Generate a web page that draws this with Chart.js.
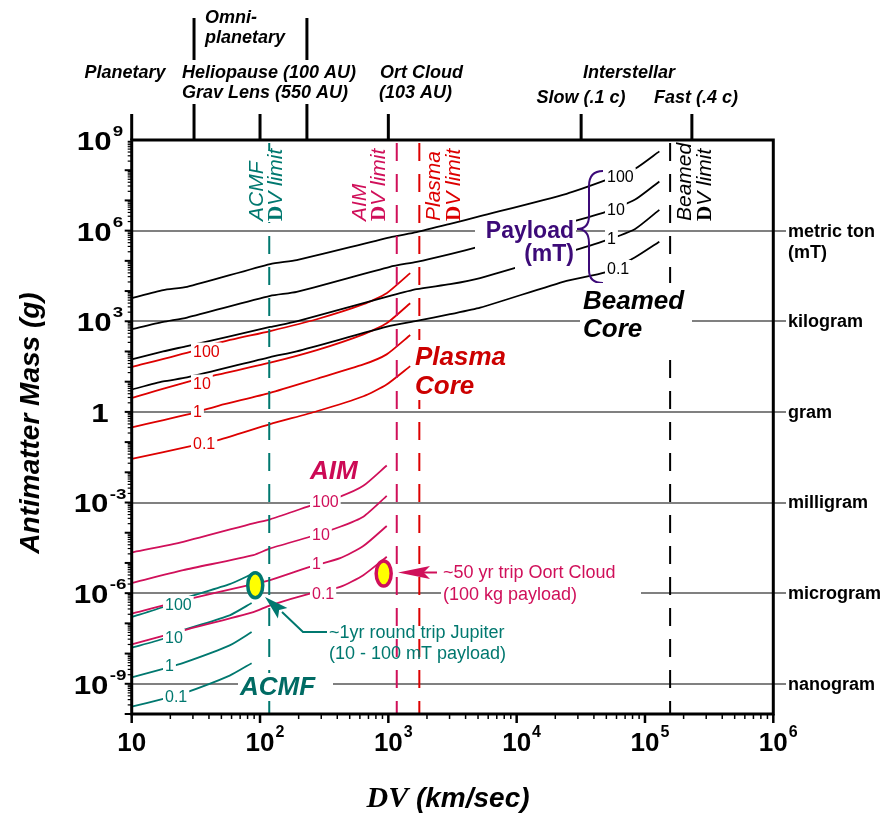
<!DOCTYPE html>
<html>
<head>
<meta charset="utf-8">
<script src="https://cdn.jsdelivr.net/npm/chart.js@4.4.1/dist/chart.umd.min.js"></script>
<style>
  html, body { margin: 0; padding: 0; background: #fff; }
  canvas { display: block; }
</style>
</head>
<body>
<canvas id="chart" width="889" height="814"></canvas>
<script>
// ---- data ----
// Beamed core (black), payload 100 / 10 / 1 / 0.1 mT
const beamedDV  = [10, 17.6, 27, 120, 193, 1030, 1660, 3030, 5190, 24500, 48900, 83800, 129400];
const beamed100 = [5800, 10700, 13800, 78000, 106000, 6.0e5, 8.9e5, 1.67e6, 3.0e6, 1.66e7, 4.6e7, 1.12e8, 4.2e8];
const beamed10  = [542, 948, 1330, 6930, 9400, 6.37e4, 9.3e4, 1.68e5, 2.99e5, 1.76e6, 4.08e6, 1.07e7, 4.25e7];
const beamed1   = [54.6, 100.7, 151, 647, 1000, 6930, 1.16e4, 1.69e4, 2.69e4, 1.86e5, 4.66e5, 1.14e6, 4.88e6];
const beamed01  = [5.5, 10.2, 13.8, 65.2, 100.7, 698, 1023, 1710, 2810, 2.18e4, 4.15e4, 1.31e5, 4.3e5];

// Plasma core (red)
const plasmaDV  = [10, 30, 48, 120, 277, 640, 970, 1480];
const plasma100 = [30.3, 103, 196, 476, 1166, 3670, 8510, 39400];
const plasma10  = [2.92, 11, 17.3, 42.5, 111, 370, 859, 3960];
const plasma1   = [0.308, 0.912, 1.62, 4.28, 12.5, 37.2, 80.2, 351];
const plasma01  = [0.0281, 0.0759, 0.119, 0.394, 1.05, 3.30, 8.07, 32.7];

// AIM (crimson)
const aimDV  = [10, 25.2, 88.7, 120, 245, 421, 638, 972];
const aim100 = [2.23e-5, 5.02e-5, 2.05e-4, 2.79e-4, 7.71e-4, 1.57e-3, 3.56e-3, 1.68e-2];
const aim10  = [2.18e-6, 5.77e-6, 1.82e-5, 3.03e-5, 7.36e-5, 1.58e-4, 3.40e-4, 1.66e-3];
const aim1   = [2.10e-7, 5.81e-7, 1.98e-6, 2.69e-6, 7.41e-6, 1.44e-5, 3.61e-5, 1.67e-4];
const aim01  = [2.00e-8, 5.85e-8, 2.37e-7, 3.96e-7, 9.70e-7, 1.61e-6, 3.94e-6, 1.60e-5];

// ACMF (teal)
const acmfDV  = [10, 17.6, 25, 58, 86];
const acmf100 = [1.62e-7, 3.48e-7, 6.52e-7, 1.98e-6, 4.25e-6];
const acmf10  = [1.56e-8, 3.10e-8, 5.85e-8, 1.85e-7, 4.72e-7];
const acmf1   = [1.64e-9, 3.13e-9, 4.80e-9, 1.86e-8, 5.14e-8];
const acmf01  = [1.75e-10, 3.15e-10, 4.72e-10, 1.87e-9, 4.80e-9];

// DV limits (dashed verticals)
const limitDV = [118, 1163, 1744, 157000];

// mission markers (yellow ellipses)
const markerDV   = [91.8, 920];
const markerMass = [1.83e-6, 4.48e-6];

// mass gridlines with their names
const gridMass  = [1e6, 1e3, 1, 1e-3, 1e-6, 1e-9];
const gridNames = [['metric ton', '(mT)'], ['kilogram'], ['gram'], ['milligram'], ['microgram'], ['nanogram']];

// axis ticks
const xMajor = [10, 100, 1e3, 1e4, 1e5, 1e6];
const xTickExp = ['', '2', '3', '4', '5', '6'];
const yMajor = [1e9, 1e6, 1e3, 1, 1e-3, 1e-6, 1e-9];
const yTickBase = ['10', '10', '10', '1', '10', '10', '10'];
const yTickExp = ['9', '6', '3', '', '-3', '-6', '-9'];

// mission classes on the top axis
const topTickDV = [10, 30.6, 100, 232, 1000, 31800, 232000];
const topTickLong = [false, true, false, true, false, false, false];

const SANS = '"Liberation Sans", Arial, Helvetica, sans-serif';
const SERIF = '"Liberation Serif", "Times New Roman", serif';
const BLACK = '#000000', RED = '#dd0000', AIMC = '#d0105a', TEAL = '#00786f', PURPLE = '#3c0a78';

function curve(dv, mass, color) {
    return {
        data: dv.map((x, i) => ({ x: x, y: mass[i] })),
        showLine: true,
        borderColor: color,
        borderWidth: 1.8,
        pointRadius: 0,
        tension: 0.2
    };
}

function seg(ctx, x1, y1, x2, y2) {
    ctx.beginPath();
    ctx.moveTo(x1, y1);
    ctx.lineTo(x2, y2);
    ctx.stroke();
}

function put(ctx, s, x, y, font, color, align, base) {
    ctx.font = font;
    ctx.fillStyle = color;
    ctx.textAlign = align || 'left';
    ctx.textBaseline = base || 'middle';
    ctx.fillText(s, x, y);
}

function white(ctx, x, y, w, h) {
    ctx.fillStyle = '#fff';
    ctx.fillRect(x, y, w, h);
}

// small inline curve label with a white gap behind it
function tag(ctx, s, x, cy, color) {
    ctx.font = `16px ${SANS}`;
    const w = ctx.measureText(s).width;
    white(ctx, x - 2, cy - 9, w + 4, 18);
    put(ctx, s, x, cy + 1, `16px ${SANS}`, color);
}

// vertical "XXX / DV limit" label, reading upward from y = 221
function limitLabel(ctx, name, xName, xLim, color) {
    ctx.save();
    ctx.translate(xName, 221);
    ctx.rotate(-Math.PI / 2);
    put(ctx, name, 0, 0, `italic 21px ${SANS}`, color, 'left', 'alphabetic');
    ctx.restore();
    ctx.save();
    ctx.translate(xLim, 221);
    ctx.rotate(-Math.PI / 2);
    put(ctx, 'D', 0, 0, `bold 21px ${SERIF}`, color, 'left', 'alphabetic');
    const dw = ctx.measureText('D').width;
    put(ctx, 'V limit', dw, 0, `italic 21px ${SANS}`, color, 'left', 'alphabetic');
    ctx.restore();
}

function arrowHead(ctx, tx, ty, fx, fy, len, half, color) {
    const dx = tx - fx, dy = ty - fy, l = Math.hypot(dx, dy);
    const ux = dx / l, uy = dy / l;
    const bx = tx - ux * len, by = ty - uy * len;
    ctx.fillStyle = color;
    ctx.beginPath();
    ctx.moveTo(tx, ty);
    ctx.lineTo(bx - uy * half, by + ux * half);
    ctx.lineTo(tx - ux * len * 0.8, ty - uy * len * 0.8);
    ctx.lineTo(bx + uy * half, by - ux * half);
    ctx.closePath();
    ctx.fill();
}

const decor = {
    id: 'decor',
    beforeDatasetsDraw(chart) {
        const { ctx, chartArea: a, scales: { y } } = chart;
        ctx.save();
        ctx.strokeStyle = '#808080';
        ctx.lineWidth = 2;
        gridMass.forEach(v => {
            const py = Math.round(y.getPixelForValue(v));
            seg(ctx, a.left, py, 786, py);
        });
        ctx.restore();
    },
    afterDatasetsDraw(chart) {
        const { ctx, chartArea: a, scales: { x, y } } = chart;
        ctx.save();

        // dashed DV limits
        const limitColors = [TEAL, AIMC, RED, BLACK];
        ctx.lineWidth = 2;
        ctx.setLineDash([18, 13]);
        limitDV.forEach((v, i) => {
            const px = x.getPixelForValue(v);
            ctx.strokeStyle = limitColors[i];
            seg(ctx, px, a.top + 3, px, a.bottom);
        });
        ctx.setLineDash([]);

        white(ctx, 265, 151, 20, 71);
        limitLabel(ctx, 'ACMF', 263, 282, TEAL);
        limitLabel(ctx, 'AIM', 366, 385, AIMC);
        limitLabel(ctx, 'Plasma', 440, 460, RED);
        limitLabel(ctx, 'Beamed', 691, 711, BLACK);

        // inline payload labels
        [['100', 176.5], ['10', 209.5], ['1', 238.5], ['0.1', 269]].forEach(t => tag(ctx, t[0], 607, t[1], BLACK));
        [['100', 351.5], ['10', 383.5], ['1', 412], ['0.1', 443.5]].forEach(t => tag(ctx, t[0], 193, t[1], RED));
        [['100', 502], ['10', 534.5], ['1', 564], ['0.1', 594]].forEach(t => tag(ctx, t[0], 312, t[1], AIMC));
        [['100', 605], ['10', 638], ['1', 666], ['0.1', 696.5]].forEach(t => tag(ctx, t[0], 165, t[1], TEAL));

        // Payload (mT) with brace
        white(ctx, 475, 219, 101, 33);
        white(ctx, 515, 240, 61, 33);
        put(ctx, 'Payload', 574, 238, `bold 23px ${SANS}`, PURPLE, 'right', 'alphabetic');
        put(ctx, '(mT)', 574, 261, `bold 23px ${SANS}`, PURPLE, 'right', 'alphabetic');
        ctx.strokeStyle = PURPLE;
        ctx.lineWidth = 2;
        ctx.beginPath();
        ctx.moveTo(603, 171);
        ctx.quadraticCurveTo(589, 171, 589, 186);
        ctx.lineTo(589, 216);
        ctx.quadraticCurveTo(589, 229, 577, 229);
        ctx.quadraticCurveTo(589, 229, 589, 243);
        ctx.lineTo(589, 270);
        ctx.quadraticCurveTo(589, 283, 603, 283);
        ctx.stroke();

        // family names
        white(ctx, 580, 283, 112, 66);
        put(ctx, 'Beamed', 583, 302, `bold italic 26px ${SANS}`, BLACK);
        put(ctx, 'Core', 583, 330, `bold italic 26px ${SANS}`, BLACK);
        white(ctx, 413, 340, 97, 60);
        put(ctx, 'Plasma', 415, 358, `bold italic 26px ${SANS}`, '#cc0000');
        put(ctx, 'Core', 415, 387, `bold italic 26px ${SANS}`, '#cc0000');
        put(ctx, 'AIM', 310, 472, `bold italic 26px ${SANS}`, '#cc0a55');
        white(ctx, 238, 673, 95, 28);
        put(ctx, 'ACMF', 240, 688, `bold italic 26px ${SANS}`, '#006b64');

        // mission markers
        markerDV.forEach((v, i) => {
            const px = x.getPixelForValue(v), py = y.getPixelForValue(markerMass[i]);
            ctx.beginPath();
            ctx.ellipse(px, py, 7.5, 12.5, 0, 0, Math.PI * 2);
            ctx.fillStyle = '#ffff00';
            ctx.fill();
            ctx.lineWidth = 3.5;
            ctx.strokeStyle = i === 0 ? TEAL : AIMC;
            ctx.stroke();
        });

        // Oort cloud note
        white(ctx, 441, 561, 200, 46);
        put(ctx, '~50 yr trip Oort Cloud', 443, 573, `18px ${SANS}`, AIMC);
        put(ctx, '(100 kg payload)', 443, 595, `18px ${SANS}`, AIMC);
        ctx.strokeStyle = AIMC;
        ctx.lineWidth = 2;
        seg(ctx, 437, 572.5, 420, 572.5);
        arrowHead(ctx, 398, 572.5, 437, 572.5, 32, 6.5, AIMC);

        // Jupiter note
        put(ctx, '~1yr round trip Jupiter', 329, 633, `18px ${SANS}`, TEAL);
        put(ctx, '(10 - 100 mT payload)', 329, 654, `18px ${SANS}`, TEAL);
        ctx.strokeStyle = TEAL;
        ctx.lineWidth = 2;
        ctx.beginPath();
        ctx.moveTo(327, 632);
        ctx.lineTo(303, 632);
        ctx.lineTo(282, 612);
        ctx.stroke();
        arrowHead(ctx, 265, 597, 303, 632, 24, 7, TEAL);

        // plot frame
        ctx.strokeStyle = BLACK;
        ctx.lineWidth = 3;
        ctx.strokeRect(a.left, a.top, a.right - a.left, a.bottom - a.top);

        // bottom ticks
        for (let d = 1; d < 6; d++) {
            for (let m = 1; m < 10; m++) {
                const px = x.getPixelForValue(m * Math.pow(10, d));
                ctx.lineWidth = m === 1 ? 2.5 : 1.5;
                seg(ctx, px, a.bottom, px, a.bottom + (m === 1 ? 9 : 5));
            }
        }
        ctx.lineWidth = 2.5;
        seg(ctx, a.right, a.bottom, a.right, a.bottom + 9);

        // left ticks
        for (let d = -10; d < 9; d++) {
            for (let m = 1; m < 10; m++) {
                const py = y.getPixelForValue(m * Math.pow(10, d));
                ctx.lineWidth = m === 1 ? 2 : 1.2;
                seg(ctx, a.left, py, a.left - (m === 1 ? 7 : 4), py);
            }
        }

        // x tick labels
        xMajor.forEach((v, i) => {
            const px = x.getPixelForValue(v);
            put(ctx, '10', px, 744, `bold 26px ${SANS}`, BLACK, 'center');
            if (xTickExp[i]) {
                const bw = ctx.measureText('10').width;
                put(ctx, xTickExp[i], px + bw / 2 + 1, 733, `bold 16px ${SANS}`, BLACK, 'left');
            }
        });

        // y tick labels (wide lettering)
        yMajor.forEach((v, i) => {
            const py = y.getPixelForValue(v);
            ctx.save();
            ctx.translate(100, py);
            ctx.scale(1.25, 1);
            ctx.font = `bold 25px ${SANS}`;
            const bw = ctx.measureText(yTickBase[i]).width;
            ctx.font = `bold 15px ${SANS}`;
            const ew = yTickExp[i] ? ctx.measureText(yTickExp[i]).width + 1 : 0;
            const sx = -(bw + ew) / 2;
            put(ctx, yTickBase[i], sx, 3, `bold 25px ${SANS}`, BLACK, 'left');
            if (yTickExp[i]) put(ctx, yTickExp[i], sx + bw + 1, -8, `bold 15px ${SANS}`, BLACK, 'left');
            ctx.restore();
        });

        // mass names on the right
        gridMass.forEach((v, i) => {
            const py = y.getPixelForValue(v);
            put(ctx, gridNames[i][0], 788, py + 1, `bold 18px ${SANS}`, BLACK);
            if (gridNames[i][1]) put(ctx, gridNames[i][1], 788, py + 22, `bold 18px ${SANS}`, BLACK);
        });

        // top axis ticks
        ctx.strokeStyle = BLACK;
        ctx.lineWidth = 3;
        topTickDV.forEach((v, i) => {
            const px = x.getPixelForValue(v);
            seg(ctx, px, a.top, px, topTickLong[i] ? 18 : 114);
        });

        const TF = `bold italic 18px ${SANS}`;
        put(ctx, 'Omni-', 205, 23, TF, BLACK, 'left', 'alphabetic');
        put(ctx, 'planetary', 205, 43, TF, BLACK, 'left', 'alphabetic');
        put(ctx, 'Planetary', 125, 78, TF, BLACK, 'center', 'alphabetic');
        white(ctx, 180, 60, 192, 44);
        put(ctx, 'Heliopause (100 AU)', 182, 78, TF, BLACK, 'left', 'alphabetic');
        put(ctx, 'Grav Lens (550 AU)', 182, 98, TF, BLACK, 'left', 'alphabetic');
        put(ctx, 'Ort Cloud', 380, 78, TF, BLACK, 'left', 'alphabetic');
        put(ctx, '(103 AU)', 379, 98, TF, BLACK, 'left', 'alphabetic');
        put(ctx, 'Interstellar', 629, 78, TF, BLACK, 'center', 'alphabetic');
        put(ctx, 'Slow (.1 c)', 581, 103, TF, BLACK, 'center', 'alphabetic');
        put(ctx, 'Fast (.4 c)', 696, 103, TF, BLACK, 'center', 'alphabetic');

        // axis titles
        ctx.save();
        ctx.translate(31, 423);
        ctx.rotate(-Math.PI / 2);
        put(ctx, 'Antimatter Mass (g)', 0, 0, `bold italic 28px ${SANS}`, BLACK, 'center');
        ctx.restore();

        ctx.font = `bold italic 30px ${SERIF}`;
        const w1 = ctx.measureText('DV').width;
        ctx.font = `bold italic 28px ${SANS}`;
        const w2 = ctx.measureText(' (km/sec)').width;
        const x0 = 448 - (w1 + w2) / 2;
        put(ctx, 'DV', x0, 807, `bold italic 30px ${SERIF}`, BLACK, 'left', 'alphabetic');
        put(ctx, ' (km/sec)', x0 + w1, 807, `bold italic 28px ${SANS}`, BLACK, 'left', 'alphabetic');

        ctx.restore();
    }
};

new Chart(document.getElementById('chart'), {
    type: 'scatter',
    data: {
        datasets: [
            curve(beamedDV, beamed100, BLACK),
            curve(beamedDV, beamed10, BLACK),
            curve(beamedDV, beamed1, BLACK),
            curve(beamedDV, beamed01, BLACK),
            curve(plasmaDV, plasma100, RED),
            curve(plasmaDV, plasma10, RED),
            curve(plasmaDV, plasma1, RED),
            curve(plasmaDV, plasma01, RED),
            curve(aimDV, aim100, AIMC),
            curve(aimDV, aim10, AIMC),
            curve(aimDV, aim1, AIMC),
            curve(aimDV, aim01, AIMC),
            curve(acmfDV, acmf100, TEAL),
            curve(acmfDV, acmf10, TEAL),
            curve(acmfDV, acmf1, TEAL),
            curve(acmfDV, acmf01, TEAL)
        ]
    },
    options: {
        responsive: false,
        animation: false,
        events: [],
        layout: { padding: { left: 131.7, right: 115.7, top: 140, bottom: 100 } },
        scales: {
            x: { type: 'logarithmic', min: 10, max: 1e6, display: false },
            y: { type: 'logarithmic', min: 1e-10, max: 1e9, display: false }
        },
        plugins: {
            legend: { display: false },
            tooltip: { enabled: false }
        }
    },
    plugins: [decor]
});
</script>
</body>
</html>
